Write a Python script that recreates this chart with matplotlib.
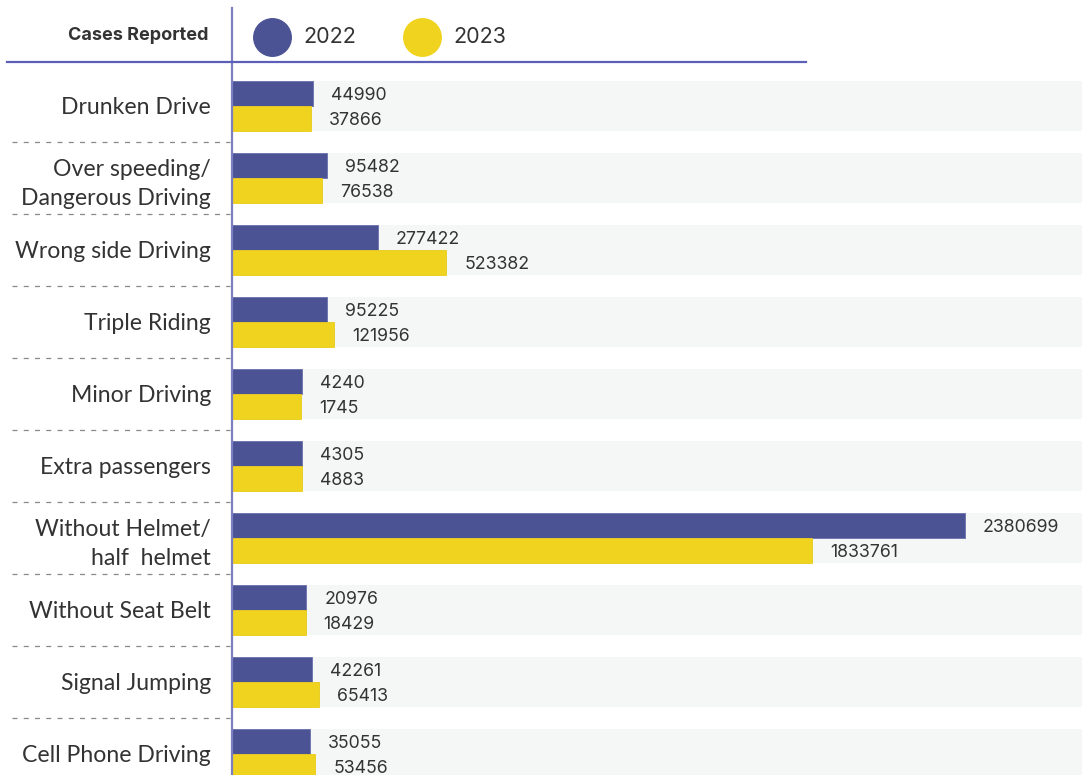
import matplotlib
matplotlib.use("Agg")
import matplotlib.pyplot as plt
from matplotlib.lines import Line2D
import numpy as np

categories = [
    "Drunken Drive",
    "Over speeding/\nDangerous Driving",
    "Wrong side Driving",
    "Triple Riding",
    "Minor Driving",
    "Extra passengers",
    "Without Helmet/\nhalf  helmet",
    "Without Seat Belt",
    "Signal Jumping",
    "Cell Phone Driving",
]
cases_2022 = [44990, 95482, 277422, 95225, 4240, 4305, 2380699, 20976, 42261, 35055]
cases_2023 = [37866, 76538, 523382, 121956, 1745, 4883, 1833761, 18429, 65413, 53456]
years = ["2022", "2023"]

blue = "#4b5394"
yellow = "#f0d31f"
band = "#f5f6f6"
line_col = "#5b5fb8"
text_col = "#333333"

W, H = 1082, 775
fig = plt.figure(figsize=(W / 100, H / 100), dpi=100)

# bars start a bit left of zero so small values stay visible
base = 245000
xmax = 2800000
ax = fig.add_axes([232 / W, 0, 850 / W, 705 / H])
ax.set_xlim(-base, xmax)
ax.set_ylim((H - 106) / 72, -0.5)

y = np.arange(len(categories))
h = 0.354
for i in y:
    ax.axhspan(i - h, i + h, color=band, zorder=0, lw=0)

v22 = np.array(cases_2022)
v23 = np.array(cases_2023)
ax.barh(y - h / 2, v22 + base, left=-base, height=h, color=blue,
        edgecolor="#6a70ad", linewidth=0.6, zorder=2)
ax.barh(y + h / 2, v23 + base, left=-base, height=h, color=yellow,
        edgecolor="#e8cc1a", linewidth=0.6, zorder=2)

for i in y:
    ax.annotate(str(v22[i]), (v22[i], i - h / 2), xytext=(13, 0),
                textcoords="offset points", va="center_baseline", ha="left",
                fontsize=12.8, family="Inter", color=text_col)
    ax.annotate(str(v23[i]), (v23[i], i + h / 2), xytext=(13, 0),
                textcoords="offset points", va="center_baseline", ha="left",
                fontsize=12.8, family="Inter", color=text_col)

ax.set_yticks(y)
ax.set_yticklabels(categories, family="Lato", fontsize=16.6, color=text_col,
                   linespacing=1.45, ha="right")
ax.tick_params(axis="y", length=0, pad=15)
ax.set_xticks([])
for s in ax.spines.values():
    s.set_visible(False)

# dashed separators between rows
trans = ax.get_yaxis_transform()
for i in y[:-1]:
    ax.plot([-220 / 850, -2 / 850], [i + 0.5, i + 0.5], transform=trans,
            clip_on=False, color="#888888", lw=0.9, ls=(0, (4, 5)))

# header lines
fig.add_artist(Line2D([232 / W, 232 / W], [0, 1 - 8 / H],
                      transform=fig.transFigure, color="#7b7fc0", lw=1.6))
fig.add_artist(Line2D([7 / W, 806 / W], [1 - 62 / H, 1 - 62 / H],
                      transform=fig.transFigure, color=line_col, lw=1.6))

fig.text(209 / W, 1 - 36 / H, "Cases Reported", ha="right", va="center",
         family="Inter", fontweight="bold", fontsize=13, color=text_col)

for cx, col, yr in [(272, blue, years[0]), (422, yellow, years[1])]:
    fig.add_artist(Line2D([cx / W], [1 - 37 / H], marker="o", markersize=27,
                          color=col, transform=fig.transFigure, lw=0))
    fig.text((cx + 31) / W, 1 - 37 / H, yr, ha="left", va="center",
             family="Inter", fontsize=15.5, color=text_col)

fig.savefig("out.png", dpi=100)
